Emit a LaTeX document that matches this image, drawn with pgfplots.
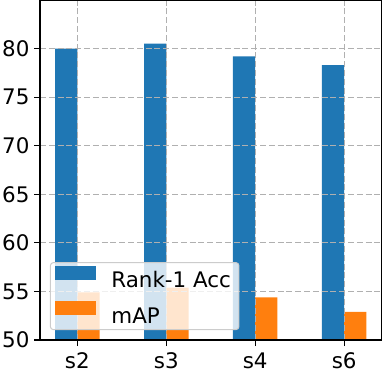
\documentclass[border=0pt]{standalone}
\usepackage{pgfplots}
\pgfplotsset{compat=1.18}
\usepackage{fontspec}
\setmainfont{DejaVu Sans}
\usetikzlibrary{calc}

\definecolor{mplblue}{HTML}{1F77B4}
\definecolor{mplorange}{HTML}{FF7F0E}
\definecolor{gridgray}{HTML}{B0B0B0}
\definecolor{legedge}{HTML}{CCCCCC}

\begin{document}
\begin{tikzpicture}
\begin{axis}[
  name=ax,
  scale only axis, width=341.5bp, height=340bp,
  ybar, bar width=0.25,
  xmin=-0.42, xmax=3.42, ymin=50, ymax=85,
  xtick={0,1,2,3}, xticklabels={s2,s3,s4,s6},
  ytick={50,55,60,65,70,75,80},
  tick pos=left, tick align=outside,
  major tick length=6bp,
  tick style={black, line width=1.1bp},
  axis line style={line width=1.1bp},
  grid=major,
  grid style={gridgray, line width=1.2bp, dash pattern=on 6bp off 2.8bp},
  axis on top,
  font=\fontsize{21.5}{25}\selectfont,
  /pgf/number format/assume math mode=true,
  yticklabel style={xshift=-1bp},
  xticklabel style={yshift=-3bp},
  legend cell align=left,
  legend style={
    at={(rel axis cs:0.029,0.029)}, anchor=south west,
    fill=white, fill opacity=0.8, draw opacity=1, text opacity=1,
    draw=legedge, line width=1bp, rounded corners=3bp,
    inner xsep=5bp, inner ysep=3bp, row sep=10bp,
    nodes={inner xsep=3bp, inner ysep=2bp},
    /tikz/every odd column/.append style={column sep=12bp},
  },
]
\addplot[fill=mplblue, draw=none, bar shift=-0.125,
  legend image code/.code={\fill[mplblue, fill opacity=1, rounded corners=0pt] (0bp,0.8bp) rectangle (41bp,14.8bp);}]
  coordinates {(0,80.0) (1,80.5) (2,79.2) (3,78.3)};
\addplot[fill=mplorange, draw=none, bar shift=0.125,
  legend image code/.code={\fill[mplorange, fill opacity=1, rounded corners=0pt] (0bp,0.8bp) rectangle (41bp,14.8bp);}]
  coordinates {(0,54.9) (1,55.4) (2,54.4) (3,52.9)};
\legend{Rank-1 Acc, mAP}
\end{axis}
\pgfresetboundingbox
\useasboundingbox ($(ax.south west)+(-40bp,-34bp)$) rectangle ($(ax.north east)+(0.5bp,0bp)$);
\end{tikzpicture}
\end{document}
